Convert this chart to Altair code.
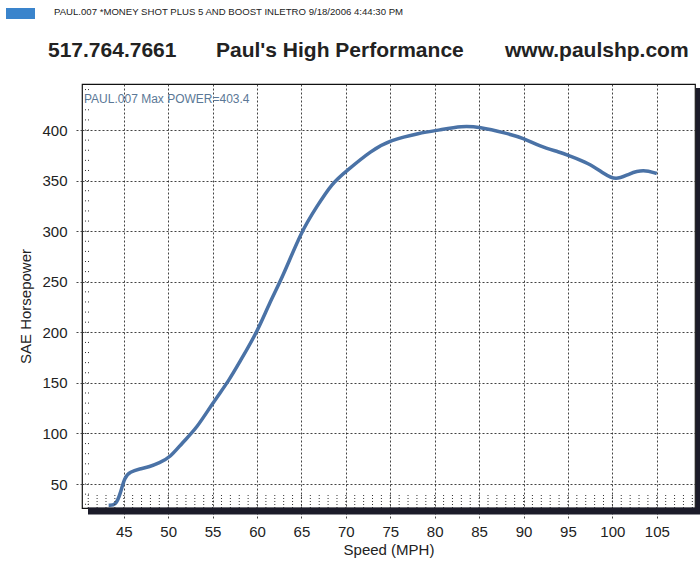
import altair as alt
import pandas as pd

# Dyno curve (speed MPH, SAE horsepower)
speed = [43.3, 44.1, 44.6, 45.1, 45.7, 46.8, 47.9, 49.0, 50.2, 51.6, 53.2, 55.0,
         56.9, 58.0, 60.0, 61.4, 62.9, 65.0, 66.7, 68.5, 70.0, 72.9, 75.0, 78.3,
         80.5, 83.1, 85.0, 88.0, 90.0, 91.8, 94.1, 95.0, 97.4, 99.0, 100.4, 101.9,
         103.5, 105.0]
hp = [29, 29, 40, 57, 62, 65, 67, 71, 76, 91, 105, 130,
      153, 170, 200, 229, 255, 300, 324, 348, 359, 380, 390, 397,
      400, 404, 403, 397, 392, 384, 378, 375, 367, 357, 350, 357,
      361, 357]

x_ticks = [45, 50, 55, 60, 65, 70, 75, 80, 85, 90, 95, 100, 105]
y_ticks = [50, 100, 150, 200, 250, 300, 350, 400]
x_minor = list(range(41, 110))
y_minor = list(range(30, 445, 10))

header_line = "PAUL.007   *MONEY SHOT PLUS 5 AND BOOST INLETRO  9/18/2006 4:44:30 PM"
phone = "517.764.7661"
shop = "Paul's High Performance"
web = "www.paulshp.com"
note = "PAUL.007  Max POWER=403.4"

W, H = 613, 424
FONT = "Liberation Sans"
xs = alt.Scale(domain=[40.3, 109.3], nice=False, zero=False)
ys = alt.Scale(domain=[26.3, 445.5], nice=False, zero=False)

x_axis = alt.Axis(values=x_ticks, grid=True, gridDash=[2, 2], gridColor="#222222",
                  gridOpacity=0.85, tickDash=[2, 2], tickColor="#444444", tickSize=12,
                  labelPadding=4, labelFont=FONT, labelFontSize=15, labelColor="#222222",
                  titleFont=FONT, titleFontSize=15, titleFontWeight="normal",
                  titleColor="#222222", titlePadding=3, domain=False)
y_axis = alt.Axis(values=y_ticks, grid=True, gridDash=[2, 2], gridColor="#222222",
                  gridOpacity=0.85, tickDash=[2, 2], tickColor="#444444", tickSize=8,
                  labelPadding=7, labelFont=FONT, labelFontSize=15, labelColor="#222222",
                  titleFont=FONT, titleFontSize=15, titleFontWeight="normal",
                  titleColor="#222222", titleX=-49, titleY=222, domain=False)

X = lambda: alt.X("speed:Q", scale=xs, title="Speed (MPH)", axis=x_axis)
Y = lambda: alt.Y("hp:Q", scale=ys, title="SAE Horsepower", axis=y_axis)

df = pd.DataFrame({"speed": speed, "hp": hp})

line = alt.Chart(df).mark_line(color="#4a72a6", strokeWidth=3.5, interpolate="basis").encode(
    x=X(), y=Y())

xminor = alt.Chart(pd.DataFrame({"speed": x_minor})).mark_rule(
    color="#333333", strokeDash=[1, 2], strokeWidth=1).encode(
    x=X(), y=alt.value(H - 13), y2=alt.value(H))

yminor = alt.Chart(pd.DataFrame({"hp": y_minor})).mark_rule(
    color="#333333", strokeDash=[1, 2], strokeWidth=1).encode(
    y=Y(), x=alt.value(0), x2=alt.value(7))

one = pd.DataFrame({"k": [0]})
shadow_b = alt.Chart(one).mark_rule(color="#1c1c2a", strokeWidth=7).encode(
    x=alt.value(6), x2=alt.value(622), y=alt.value(H + 3))
shadow_r = alt.Chart(one).mark_rule(color="#1c1c2a", strokeWidth=6).encode(
    x=alt.value(W + 4), y=alt.value(4), y2=alt.value(H + 6))

blue_box = alt.Chart(one).mark_rect(color="#3a84cc").encode(
    x=alt.value(-76), x2=alt.value(-47), y=alt.value(-76), y2=alt.value(-65))


def txt(s, x, y, size, color="#222222", weight="normal"):
    return alt.Chart(pd.DataFrame({"t": [s]})).mark_text(
        align="left", baseline="middle", font=FONT, fontSize=size,
        fontWeight=weight, color=color).encode(
        text="t:N", x=alt.value(x), y=alt.value(y))


texts = [
    txt(header_line, -28, -72, 9.6),
    txt(phone, -34, -33, 21, weight="bold"),
    txt(shop, 134, -33, 21, weight="bold"),
    txt(web, 423, -33, 21, weight="bold"),
    txt(note, 2, 15, 12, color="#5b7896"),
]

chart = alt.layer(line, xminor, yminor, shadow_b, shadow_r, blue_box, *texts).properties(
    width=W, height=H,
    autosize=alt.AutoSizeParams(type="none"),
    padding={"left": 82, "top": 84, "right": 5, "bottom": 53},
    background="white",
).configure_view(stroke="#111111", strokeWidth=1.2)

chart.save("out.html", embed_options={"renderer": "svg", "actions": False})
